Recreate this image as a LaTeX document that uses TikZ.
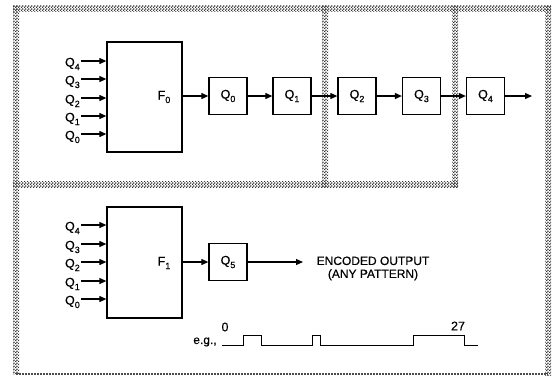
\documentclass[tikz,border=0pt]{standalone}
\usepackage{fontspec}
\setmainfont{Liberation Sans}[FakeBold=0.4]
\usetikzlibrary{arrows.meta,calc,patterns}
\pgfdeclarepatternformonly{checker}{\pgfqpoint{0pt}{0pt}}{\pgfqpoint{3pt}{3pt}}{\pgfqpoint{3pt}{3pt}}{%
  \pgfpathrectangle{\pgfqpoint{0pt}{0pt}}{\pgfqpoint{1.5pt}{1.5pt}}%
  \pgfpathrectangle{\pgfqpoint{1.5pt}{1.5pt}}{\pgfqpoint{1.5pt}{1.5pt}}%
  \pgfusepath{fill}}
\newcommand\sbs[1]{\raisebox{-3.5pt}{\fontsize{9}{9}\selectfont #1}}
\begin{document}
\begin{tikzpicture}[x=1pt,y=-1pt,
  halftone/.style={pattern=checker, pattern color=black!80},
  thindot/.style={draw=black!70, line width=1.2pt, dash pattern=on 1.5pt off 1.5pt},
  fbox/.style={draw, line width=1.3pt, minimum width=75pt, inner sep=0pt},
  reg/.style={draw, line width=1.3pt, minimum width=38pt, minimum height=37pt, inner sep=0pt, font=\fontsize{12.5}{12.5}\selectfont},
  lbl/.style={inner sep=0pt, font=\fontsize{12.5}{12.5}\selectfont},
  arr/.style={line width=1.1pt, -{Triangle[length=7pt,width=6pt]}},
  wave/.style={line width=1pt}]
\useasboundingbox (0,0) rectangle (556,376);
\fill[white] (0,0) rectangle (556,376);
% frames
\fill[halftone] (13,5) rectangle (551,11);
\fill[halftone] (13,5) rectangle (19,374);
\fill[halftone] (545,5) rectangle (551,375);
\fill[halftone] (13,181) rectangle (458,187);
\fill[halftone] (322,5) rectangle (328,187);
\fill[halftone] (452,5) rectangle (458,187);
\draw[thindot] (16,374) -- (548,374);
% top section
\node[fbox, minimum height=110pt] (F0) at (144.5,97) {};
\node[lbl] (F0l) at (164,97) {F\sbs{0}};
\foreach \i/\y in {4/61,3/79,2/98,1/116,0/134}{
  \coordinate (a\i) at (81,\y);
  \node[lbl, anchor=base east] (la\i) at ($(a\i)+(-1,5.5)$) {Q\sbs{\i}};
  \draw[arr] (a\i) -- (a\i -| F0.west);
}
\node[reg] (Q0) at (228,96) {Q\sbs{0}};
\node[reg] (Q1) at (292,96) {Q\sbs{1}};
\node[reg] (Q2) at (357,96) {Q\sbs{2}};
\node[reg] (Q3) at (421.5,96) {Q\sbs{3}};
\node[reg] (Q4) at (485.5,96) {Q\sbs{4}};
\draw[arr] (F0.east |- Q0.west) -- (Q0.west);
\draw[arr] (Q0) -- (Q1);
\draw[arr] (Q1) -- (Q2);
\draw[arr] (Q2) -- (Q3);
\draw[arr] (Q3) -- (Q4);
\coordinate (o4) at (532,96);
\draw[arr] (Q4.east) -- (o4);
% bottom section
\node[fbox, minimum height=111pt] (F1) at (144.5,262.5) {};
\node[lbl] (F1l) at (164,263) {F\sbs{1}};
\foreach \i/\y in {4/225,3/244,2/262,1/281,0/299}{
  \coordinate (b\i) at (81,\y);
  \node[lbl, anchor=base east] (lb\i) at ($(b\i)+(-1,5.5)$) {Q\sbs{\i}};
  \draw[arr] (b\i) -- (b\i -| F1.west);
}
\node[reg] (Q5) at (228,262) {Q\sbs{5}};
\draw[arr] (F1.east |- Q5.west) -- (Q5.west);
\coordinate (o5) at (303,262);
\draw[arr] (Q5.east) -- (o5);
\node[lbl, align=center, font=\fontsize{12}{13}\selectfont] (enc) at (373,268.5) {ENCODED OUTPUT\\(ANY PATTERN)};
% waveform
\node[lbl, font=\fontsize{12}{12}\selectfont] (eg) at (205,342) {e.g.,};
\draw[wave] (222,345) -- (243,345) -- (243,335) -- (261,335) -- (261,345)
  -- (312,345) -- (312,335) -- (320,335) -- (320,345)
  -- (413,345) -- (413,335) -- (464,335) -- (464,345) -- (478,345);
\node[lbl] (t0) at (225,327) {0};
\node[lbl] (t27) at (458,326) {27};
\end{tikzpicture}
\end{document}
